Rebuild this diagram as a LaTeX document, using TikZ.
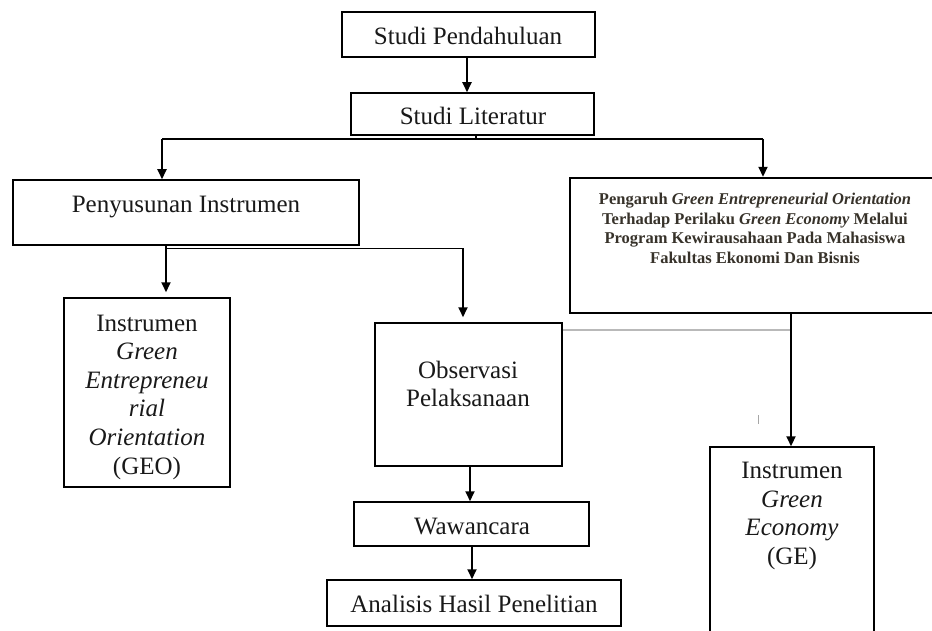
\documentclass[tikz,border=0pt]{standalone}
\usepackage{fontspec}
\setmainfont{Liberation Serif}
\usetikzlibrary{arrows.meta}
\definecolor{rbtext}{RGB}{55,50,42}
\begin{document}
\begin{tikzpicture}[x=1pt,y=-1pt,
  box/.style={draw=black, line width=1.5pt, inner sep=0pt},
  heavy/.style={box, line width=2.4pt},
  lbl/.style={font=\fontsize{25}{28.6}\selectfont, align=center, inner sep=0pt, text=black!90},
  rbl/.style={font=\fontsize{16.5}{19.5}\selectfont\bfseries, align=center, inner sep=0pt, text=rbtext},
  conn/.style={line width=1.8pt},
  arr/.style={conn, -{Triangle[length=10pt,width=9pt]}},
]
\useasboundingbox (0,0) rectangle (932,631);
\fill[white] (0,0) rectangle (932,631);

% boxes
\node[heavy, minimum width=253pt, minimum height=45pt] (sp) at (468.5,34.5) {};
\node[box, minimum width=243pt, minimum height=42pt] (sl) at (472.5,114) {};
\node[box, minimum width=346pt, minimum height=65pt] (pi) at (186,212.5) {};
\node[heavy, minimum width=375pt, minimum height=135pt] (rb) at (757.5,245.5) {};
\node[box, minimum width=166pt, minimum height=189pt] (geo) at (147,392.5) {};
\node[box, minimum width=187pt, minimum height=143pt] (obs) at (468.5,394.5) {};
\node[box, minimum width=235pt, minimum height=44pt] (waw) at (471.5,524) {};
\node[box, minimum width=294pt, minimum height=46pt] (ana) at (474,603) {};
\node[box, minimum width=164pt, minimum height=213pt] (ge) at (792,553.5) {};

% texts
\node[lbl, anchor=base] (tsp) at (468,45) {Studi Pendahuluan};
\node[lbl, anchor=base] (tsl) at (473,125) {Studi Literatur};
\node[lbl, anchor=base] (tpi) at (186,213) {Penyusunan Instrumen};
\node[rbl] (trb) at (755,228.5) {Pengaruh \textit{Green Entrepreneurial Orientation}\\
  Terhadap Perilaku \textit{Green Economy} Melalui\\
  Program Kewirausahaan Pada Mahasiswa\\
  Fakultas Ekonomi Dan Bisnis};
\node[lbl] (tgeo) at (147,397) {Instrumen\\ \textit{Green}\\ \textit{Entrepreneu}\\ \textit{rial}\\ \textit{Orientation}\\ (GEO)};
\node[lbl] (tobs) at (468,384) {Observasi\\ Pelaksanaan};
\node[lbl, anchor=base] (twaw) at (472,534) {Wawancara};
\node[lbl, anchor=base] (tana) at (474,612) {Analisis Hasil Penelitian};
\node[lbl] (tge) at (792,516) {Instrumen\\ \textit{Green}\\ \textit{Economy}\\ (GE)};

% connectors
\draw[arr] ([xshift=-1.5pt]sp.south) -- ([xshift=-1.5pt]sp.south |- sl.north);
\coordinate (jn) at (476,139);
\coordinate (b1) at (162,139);
\coordinate (b2) at (763,139);
\draw[conn] (jn |- sl.south) -- (jn);
\draw[conn] (b1) -- (b2);
\draw[arr] (b1) -- (b1 |- pi.north);
\draw[arr] (b2) -- (b2 |- rb.north);

\coordinate (c1) at (166,248.5);
\coordinate (c2) at (463,248.5);
\draw[arr, shorten >=5pt] (c1 |- pi.south) -- (c1 |- geo.north);
\draw[conn] (c1) -- (c2);
\draw[arr, shorten >=5pt] (c2) -- (c2 |- obs.north);

\draw[arr] ([xshift=1.5pt]obs.south) -- ([xshift=1.5pt]obs.south |- waw.north);
\draw[arr] ([xshift=0.5pt]waw.south) -- ([xshift=0.5pt]waw.south |- ana.north);

\coordinate (d1) at (791,330);
\draw[gray!55, line width=2pt] (obs.east |- d1) -- (d1);
\draw[arr, line width=2.2pt] (d1 |- rb.south) -- (d1 |- ge.north);

\coordinate (tk) at (758,415);
\draw[gray!70, line width=1pt] (tk) -- ++(0,9);
\end{tikzpicture}
\end{document}
